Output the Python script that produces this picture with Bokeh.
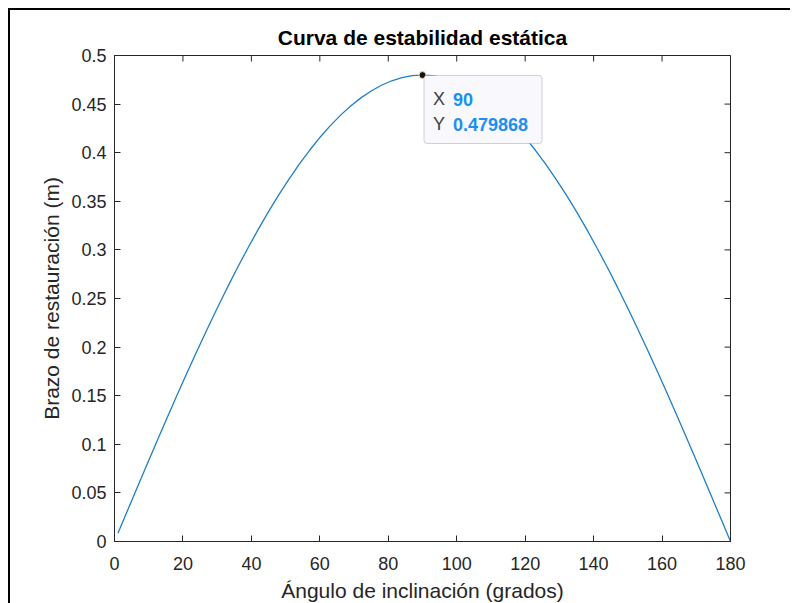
from bokeh.plotting import figure
from bokeh.models import LinearAxis, Range1d, Label, BoxAnnotation, FixedTicker
from bokeh.embed import file_html
from bokeh.resources import INLINE

# ---- data ----
angles = [1, 3, 6, 9, 12, 15, 18, 21, 24, 27, 30, 33, 36, 39, 42, 45, 48, 51, 54, 57,
          60, 63, 66, 69, 72, 75, 78, 81, 84, 87, 90, 93, 96, 99, 102, 105, 108, 111,
          114, 117, 120, 123, 126, 129, 132, 135, 138, 141, 144, 147, 150, 153, 156,
          159, 162, 165, 168, 171, 174, 177, 180]
arm = [0.0084, 0.0251, 0.0502, 0.0751, 0.0998, 0.1242, 0.1483, 0.1720, 0.1952, 0.2179,
       0.2399, 0.2614, 0.2821, 0.3020, 0.3211, 0.3393, 0.3566, 0.3729, 0.3882, 0.4025,
       0.4156, 0.4276, 0.4384, 0.4480, 0.4564, 0.4635, 0.4694, 0.4740, 0.4772, 0.4792,
       0.479868,
       0.4792, 0.4772, 0.4740, 0.4694, 0.4635, 0.4564, 0.4480, 0.4384, 0.4276, 0.4156,
       0.4025, 0.3882, 0.3729, 0.3566, 0.3393, 0.3211, 0.3020, 0.2821, 0.2614, 0.2399,
       0.2179, 0.1952, 0.1720, 0.1483, 0.1242, 0.0998, 0.0751, 0.0502, 0.0251, 0.0]
x_ticks = [0, 20, 40, 60, 80, 100, 120, 140, 160, 180]
y_ticks = [0, 0.05, 0.1, 0.15, 0.2, 0.25, 0.3, 0.35, 0.4, 0.45, 0.5]
y_tick_labels = ["0", "0.05", "0.1", "0.15", "0.2", "0.25", "0.3", "0.35", "0.4", "0.45", "0.5"]
tip_x = 90
tip_y = 0.479868
tip_x_text = "90"
tip_y_text = "0.479868"

# ---- layout / style ----
FONT = "Liberation Sans"
AX = "#262626"
FW, FH = 616, 486
XMIN, XMAX, YMIN, YMAX = 0, 180, 0, 0.5
TICK = 6

p = figure(frame_width=FW, frame_height=FH, output_backend="svg", toolbar_location=None,
           x_range=Range1d(XMIN, XMAX), y_range=Range1d(YMIN, YMAX),
           x_axis_location=None, y_axis_location=None,
           min_border_left=104, min_border_top=45, min_border_right=60, min_border_bottom=40,
           title="Curva de estabilidad estática")
p.styles = {"margin-left": "8px", "margin-top": "8px",
            "border-top": "2px solid #000", "border-left": "2px solid #000"}
p.grid.visible = False
p.outline_line_color = AX
p.background_fill_color = "white"
p.border_fill_color = "white"

p.title.align = "center"
p.title.text_font = FONT
p.title.text_font_size = "21px"
p.title.text_font_style = "bold"
p.title.text_color = "#000000"
p.title.standoff = 14


def make_axis(label_text):
    ax = LinearAxis()
    ax.axis_line_color = AX
    ax.major_tick_line_color = AX
    ax.major_tick_in = TICK
    ax.major_tick_out = 0
    ax.minor_tick_line_color = None
    ax.major_label_text_font = FONT
    ax.major_label_text_color = AX
    ax.major_label_text_font_size = "18px"
    ax.axis_label = label_text
    ax.axis_label_text_font = FONT
    ax.axis_label_text_font_size = "21px"
    ax.axis_label_text_font_style = "normal"
    ax.axis_label_text_color = AX
    return ax


xb = make_axis("Ángulo de inclinación (grados)")
xb.ticker = FixedTicker(ticks=x_ticks)
xb.major_label_standoff = 15
xb.axis_label_standoff = 6
p.add_layout(xb, "below")

yl = make_axis("Brazo de restauración (m)")
yl.ticker = FixedTicker(ticks=y_ticks)
yl.major_label_overrides = {t: s for t, s in zip(y_ticks, y_tick_labels)}
yl.major_label_standoff = 8
yl.axis_label_standoff = 5
p.add_layout(yl, "left")

sx = FW / (XMAX - XMIN)
sy = FH / (YMAX - YMIN)

# mirrored ticks on the top and right edges (box on)
p.segment(x0=x_ticks, x1=x_ticks, y0=[YMAX] * len(x_ticks),
          y1=[YMAX - TICK / sy] * len(x_ticks), line_color=AX, line_width=1)
p.segment(x0=[XMAX] * len(y_ticks), x1=[XMAX - TICK / sx] * len(y_ticks),
          y0=y_ticks, y1=y_ticks, line_color=AX, line_width=1)

p.line(angles, arm, line_color="#1f7fc6", line_width=1.3)

# data tip box (pixel offsets converted through the frame scale)
box = BoxAnnotation(left=tip_x + 1.5 / sx, right=tip_x + 119.5 / sx,
                    top=tip_y - 0.4 / sy, bottom=tip_y - 68.4 / sy,
                    fill_color="#f8f8fd", fill_alpha=1.0,
                    line_color="#6e6e6e", line_width=1, border_radius=3)
p.add_layout(box)

p.scatter([tip_x], [tip_y], size=7, marker="circle", fill_color="#111111",
          line_color="#efe6a0", line_width=1)

common = dict(x=tip_x, y=tip_y, text_font=FONT, text_font_size="18px",
              text_baseline="middle", text_align="left")
p.add_layout(Label(text="X", x_offset=10.5, y_offset=-24.4, text_color="#404040", **common))
p.add_layout(Label(text="Y", x_offset=10.5, y_offset=-49.4, text_color="#404040", **common))
p.add_layout(Label(text=tip_x_text, x_offset=30.5, y_offset=-24.4, text_color="#1a90f0",
                   text_font_style="bold", **common))
p.add_layout(Label(text=tip_y_text, x_offset=30.5, y_offset=-49.4, text_color="#1a90f0",
                   text_font_style="bold", **common))

open("out.html", "w").write(file_html(p, INLINE))
